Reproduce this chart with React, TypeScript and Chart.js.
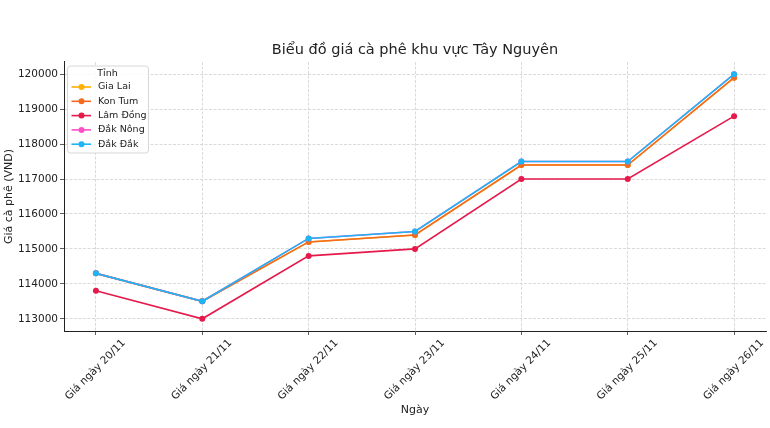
import React, { useEffect, useRef } from "react";
import { Chart, registerables } from "chart.js";

Chart.register(...registerables);

const categories = [
  "Giá ngày 20/11",
  "Giá ngày 21/11",
  "Giá ngày 22/11",
  "Giá ngày 23/11",
  "Giá ngày 24/11",
  "Giá ngày 25/11",
  "Giá ngày 26/11",
];
const seriesNames = ["Gia Lai", "Kon Tum", "Lâm Đồng", "Đắk Nông", "Đắk Đắk"];
const giaLai = [114300, 113500, 115200, 115400, 117400, 117400, 119900];
const konTum = [114300, 113500, 115200, 115400, 117400, 117400, 119900];
const lamDong = [113800, 113000, 114800, 115000, 117000, 117000, 118800];
const dakNong = [114300, 113500, 115300, 115500, 117500, 117500, 120000];
const dakDak = [114300, 113500, 115300, 115500, 117500, 117500, 120000];
const seriesColors = ["#ffb000", "#f26b21", "#e6194b", "#ff4fc8", "#1cb5f5"];
const yTicks = [113000, 114000, 115000, 116000, 117000, 118000, 119000, 120000];
const chartTitle = "Biểu đồ giá cà phê khu vực Tây Nguyên";
const xTitle = "Ngày";
const yTitle = "Giá cà phê (VND)";
const legendTitle = "Tỉnh";

const FONT = "'DejaVu Sans', sans-serif";
const TEXT = "#222222";

const legendPlugin = {
  id: "boxLegend",
  afterDraw(chart: any) {
    const ctx = chart.ctx as CanvasRenderingContext2D;
    const ca = chart.chartArea;
    const x0 = ca.left + 3;
    const y0 = ca.top + 3.5;
    const w = 81;
    const h = 87;
    ctx.save();
    ctx.beginPath();
    if ((ctx as any).roundRect) (ctx as any).roundRect(x0 + 0.5, y0 + 0.5, w, h, 3);
    else ctx.rect(x0 + 0.5, y0 + 0.5, w, h);
    ctx.fillStyle = "rgba(255,255,255,0.85)";
    ctx.fill();
    ctx.strokeStyle = "#d6d6d6";
    ctx.lineWidth = 1;
    ctx.stroke();

    ctx.fillStyle = TEXT;
    ctx.font = `9.5px ${FONT}`;
    ctx.textBaseline = "middle";
    ctx.textAlign = "center";
    ctx.fillText(legendTitle, x0 + w / 2, y0 + 8);

    ctx.textAlign = "left";
    const datasets = chart.data.datasets;
    datasets.forEach((ds: any, i: number) => {
      const cy = y0 + 21.5 + i * 14.3;
      ctx.strokeStyle = ds.borderColor;
      ctx.lineWidth = 1.6;
      ctx.beginPath();
      ctx.moveTo(x0 + 4.5, cy);
      ctx.lineTo(x0 + 24, cy);
      ctx.stroke();
      ctx.fillStyle = ds.backgroundColor;
      ctx.beginPath();
      ctx.arc(x0 + 14.5, cy, 3, 0, Math.PI * 2);
      ctx.fill();
      ctx.fillStyle = TEXT;
      ctx.fillText(ds.label, x0 + 31, cy);
    });
    ctx.restore();
  },
};

export default function App() {
  const ref = useRef<HTMLCanvasElement | null>(null);

  useEffect(() => {
    const canvas = ref.current;
    if (!canvas) return;
    const seriesValues = [giaLai, konTum, lamDong, dakNong, dakDak];
    const datasets = seriesNames.map((name, i) => ({
      label: name,
      data: seriesValues[i].map((v, j) => ({ x: j, y: v })),
      borderColor: seriesColors[i],
      backgroundColor: seriesColors[i],
      pointBackgroundColor: seriesColors[i],
      pointBorderColor: seriesColors[i],
      borderWidth: 1.6,
      pointRadius: 3,
      pointBorderWidth: 0,
      tension: 0,
      fill: false,
      order: seriesNames.length - 1 - i,
    }));

    const chart = new Chart(canvas, {
      type: "line",
      data: { datasets },
      plugins: [legendPlugin],
      options: {
        animation: false,
        responsive: false,
        events: [],
        layout: { padding: { left: 0, right: 3, top: 0, bottom: 0 } },
        plugins: {
          legend: { display: false },
          tooltip: { enabled: false },
          title: {
            display: true,
            fullSize: false,
            text: chartTitle,
            color: TEXT,
            font: { family: FONT, size: 14.5, weight: "normal" as any },
            padding: { top: 41.3, bottom: 3.3 },
          },
        },
        scales: {
          x: {
            type: "linear",
            min: -0.3,
            max: 6.3,
            afterBuildTicks: (scale: any) => {
              scale.ticks = categories.map((_, i) => ({ value: i }));
            },
            afterFit: (scale: any) => {
              scale.height = 97;
            },
            ticks: {
              callback: (v: any) => categories[Math.round(v)] ?? "",
              autoSkip: false,
              minRotation: 45,
              maxRotation: 45,
              labelOffset: 28,
              padding: 2,
              color: TEXT,
              font: { family: FONT, size: 10.5 },
            },
            grid: {
              color: "#d0d0d0",
              lineWidth: 0.8,
              tickLength: 4,
              tickColor: "#333333",
              tickWidth: 0.8,
              tickBorderDash: [],
            },
            border: { display: true, color: "#222222", width: 1, dash: [3, 1.5] },
            title: {
              display: true,
              text: xTitle,
              color: TEXT,
              font: { family: FONT, size: 11 },
              padding: { top: 0, bottom: 11 },
            },
          },
          y: {
            type: "linear",
            min: 112650,
            max: 120350,
            afterBuildTicks: (scale: any) => {
              scale.ticks = yTicks.map((v) => ({ value: v }));
            },
            afterFit: (scale: any) => {
              scale.width = 64;
            },
            ticks: {
              callback: (v: any) => String(v),
              padding: 2,
              color: TEXT,
              font: { family: FONT, size: 10.5 },
            },
            grid: {
              color: "#d0d0d0",
              lineWidth: 0.8,
              tickLength: 4,
              tickColor: "#333333",
              tickWidth: 0.8,
              tickBorderDash: [],
            },
            border: { display: true, color: "#222222", width: 1, dash: [3, 1.5] },
            title: {
              display: true,
              text: yTitle,
              color: TEXT,
              font: { family: FONT, size: 11 },
              padding: { top: 3, bottom: 0 },
            },
          },
        },
      } as any,
    });
    return () => chart.destroy();
  }, []);

  return (
    <div style={{ position: "absolute", left: 0, top: 0, width: 770, height: 428, background: "#ffffff" }}>
      <canvas ref={ref} width={770} height={428} style={{ display: "block", width: 770, height: 428 }} />
    </div>
  );
}
